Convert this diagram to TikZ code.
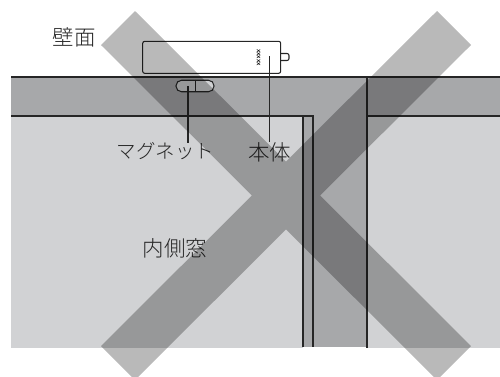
\documentclass[tikz,border=0pt]{standalone}
\usepackage{fontspec}
\newfontfamily\cjk{Noto Sans CJK JP Light}
\newfontfamily\markfont{Liberation Sans}
\definecolor{wallgray}{HTML}{A7A8AA}
\definecolor{windowgray}{HTML}{D1D2D4}
\tikzset{
	frameline/.style = {draw = black!85, line width = 1.05pt},
	labeltext/.style = {inner sep = 0pt, font = \cjk\fontsize{21.5}{21.5}\selectfont, text = black!85}
}

\begin{document}
\begin{tikzpicture}[x = 1pt, y = -1pt]
			  	\useasboundingbox (0,0) rectangle (500,376);
				\fill[color = wallgray] (11,77) rectangle (500,116);
				\fill[color = wallgray] (303,116) rectangle (367,347);
				\fill[color = windowgray] (11,116) rectangle (303,348);
				\fill[color = windowgray] (367,116) rectangle (500,348);
				\draw[frameline] (11,77) -- (500,77);
				\draw[frameline] (11,116) -- (313,116) -- (313,347);
				\draw[frameline] (303,116) -- (303,347);
				\draw[frameline] (367,77) -- (367,348);
				\draw[frameline] (367,116) -- (500,116);
				\draw[frameline, fill = white, rounded corners = 2pt] (281,53.5) -| (289,60.5) -- (281,60.5);
				\node[frameline, fill = white, rounded corners = 2pt, minimum width = 138pt, minimum height = 32pt, inner sep = 0pt] (body) at (211.7,57.3) {};
				\node[frameline, fill = windowgray, rounded corners = 5.5pt, minimum width = 38pt, minimum height = 11.5pt, inner sep = 0pt] (magnet) at (195,86) {};
				\draw[frameline] (magnet.north) ++(0.7,0) -- ++(0,11.5);
				\node[rotate = -90, inner sep = 0pt, font = \markfont\bfseries\fontsize{5}{5}\selectfont] (bodymark) at (258.5,57.5) {XXXXX};
				\node[labeltext] (walllabel) at (74,37) {壁面};
				\node[labeltext, font = \cjk\fontsize{19.5}{19.5}\selectfont] (magnetlabel) at (165.7,151.5) {マグネット};
				\node[labeltext] (bodylabel) at (269.5,152) {本体};
				\node[labeltext] (windowlabel) at (175,248.5) {内側窓};
				\coordinate (magnetend) at (188,86);
				\coordinate (bodyend) at (269.5,56);
				\draw[frameline] (magnetend) -- (magnetend |- magnetlabel.north);
				\draw[frameline] (bodyend) -- (bodyend |- bodylabel.north);
				\fill[color = black, opacity = 0.275] (101,45) -- (135,11) -- (471,346) -- (437,380) -- cycle (101,346) -- (437,11) -- (471,45) -- (135,380) -- cycle;
			\end{tikzpicture}
\end{document}
